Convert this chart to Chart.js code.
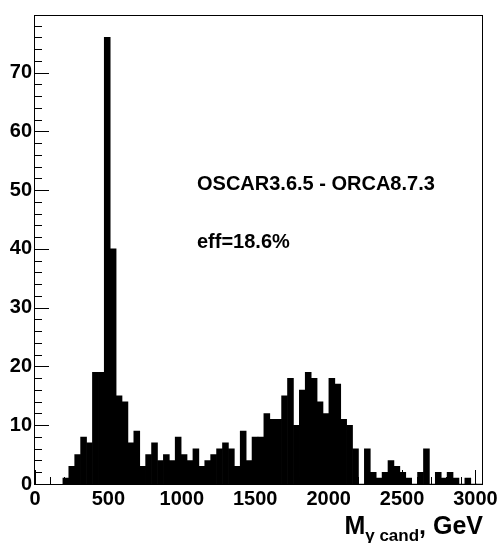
<!DOCTYPE html>
<html>
<head>
<meta charset="utf-8">
<script src="https://cdn.jsdelivr.net/npm/chart.js@4.4.1/dist/chart.umd.min.js"></script>
<style>
  html, body { margin: 0; padding: 0; background: #fff; }
  #wrap { position: relative; width: 501px; height: 543px; overflow: hidden; }
  .lbl { position: absolute; font-family: 'Liberation Sans', Arial, Helvetica, sans-serif; font-weight: bold; color: #000; white-space: nowrap; }
  #xtitle sub { font-size: 17px; vertical-align: -7px; }
</style>
</head>
<body>
<div id="wrap">
  <canvas id="hist"></canvas>
  <div class="lbl" id="note1" style="left:197px; top:173px; font-size:20px; line-height:20px;">OSCAR3.6.5 - ORCA8.7.3</div>
  <div class="lbl" id="note2" style="left:197px; top:231px; font-size:20px; line-height:20px;">eff=18.6%</div>
  <div class="lbl" id="xtitle" style="right:18px; top:513px; font-size:25px; line-height:25px;">M<sub>γ cand</sub>, GeV</div>
</div>
<script>
/** M(gamma cand) histogram, ROOT style. Axis 0-3050 GeV, 71 bins starting at 190 GeV. */
var binLow = 190;
var binWidth = 40.26;
var counts = [1, 3, 5, 8, 7, 19, 19, 76, 40, 15,
  14, 7, 9, 3, 5, 7, 4, 5, 4, 8,
  5, 4, 6, 3, 4, 5, 6, 7, 6, 3,
  9, 4, 8, 8, 12, 11, 11, 15, 18, 10,
  16, 19, 18, 14, 12, 18, 17, 11, 10, 6,
  0, 6, 2, 1, 2, 4, 3, 2, 1, 0,
  2, 6, 0, 2, 1, 2, 1, 0, 1, 0,
  0];
var xTickLabels = [0, 500, 1000, 1500, 2000, 2500, 3000];
var yTickLabels = [0, 10, 20, 30, 40, 50, 60, 70];

var fontFam = "'Liberation Sans', Arial, Helvetica, sans-serif";

// bin centres (category positions on the GeV axis)
var binCenters = [];
for (var b = 0; b < counts.length; b++) binCenters.push(binLow + (b + 0.5) * binWidth);

function toPoints(xs, ys) {
  var out = [];
  for (var i = 0; i < xs.length; i++) out.push({ x: xs[i], y: ys[i] });
  return out;
}

var rootFrame = {
  id: 'rootFrame',
  afterDraw: function (chart) {
    var c = chart.ctx;
    var a = chart.chartArea;
    var xs = chart.scales.x;
    var ys = chart.scales.y;
    c.save();
    c.strokeStyle = '#000';
    c.lineWidth = 1;
    c.beginPath();
    for (var v = 0; v <= 78; v += 2) {
      var py = Math.round(ys.getPixelForValue(v)) + 0.5;
      var len = (v % 10 === 0) ? 14 : 7;
      c.moveTo(a.left, py);
      c.lineTo(a.left + len, py);
    }
    for (var g = 0; g <= 3000; g += 100) {
      var px = Math.round(xs.getPixelForValue(g)) + 0.5;
      var lenx = (g % 500 === 0) ? 14 : 7;
      c.moveTo(px, a.bottom);
      c.lineTo(px, a.bottom - lenx);
    }
    c.stroke();
    c.strokeRect(Math.round(a.left) - 0.5, Math.round(a.top) + 0.5, Math.round(a.right - a.left), Math.round(a.bottom - a.top));
    c.restore();
  }
};

var chart = new Chart(document.getElementById('hist'), {
  type: 'bar',
  data: {
    datasets: [{
      label: 'events',
      data: toPoints(binCenters, counts),
      backgroundColor: '#000',
      borderWidth: 0,
      barPercentage: 1,
      categoryPercentage: 1
    }]
  },
  options: {
    responsive: true,
    maintainAspectRatio: false,
    animation: false,
    layout: { padding: { left: 0, top: 12, right: 17, bottom: 0 }, autoPadding: false },
    plugins: { legend: { display: false }, tooltip: { enabled: false } },
    scales: {
      x: {
        type: 'linear',
        min: 0,
        max: 3050,
        offset: false,
        grid: { display: false, drawTicks: false },
        border: { display: false },
        afterBuildTicks: function (s) { s.ticks = xTickLabels.map(function (v) { return { value: v }; }); },
        ticks: {
          autoSkip: false, maxRotation: 0, padding: 3, color: '#000',
          font: { family: fontFam, weight: 'bold', size: 20 },
          callback: function (v) { return String(v); }
        },
        afterFit: function (s) { s.height = 59; }
      },
      y: {
        min: 0,
        max: 79.8,
        grid: { display: false, drawTicks: false },
        border: { display: false },
        afterBuildTicks: function (s) { s.ticks = yTickLabels.map(function (v) { return { value: v }; }); },
        ticks: {
          padding: 3, color: '#000',
          font: { family: fontFam, weight: 'bold', size: 20 },
          callback: function (v) { return String(v); }
        },
        afterFit: function (s) { s.width = 35; }
      }
    }
  },
  plugins: [rootFrame]
});
</script>
</body>
</html>
